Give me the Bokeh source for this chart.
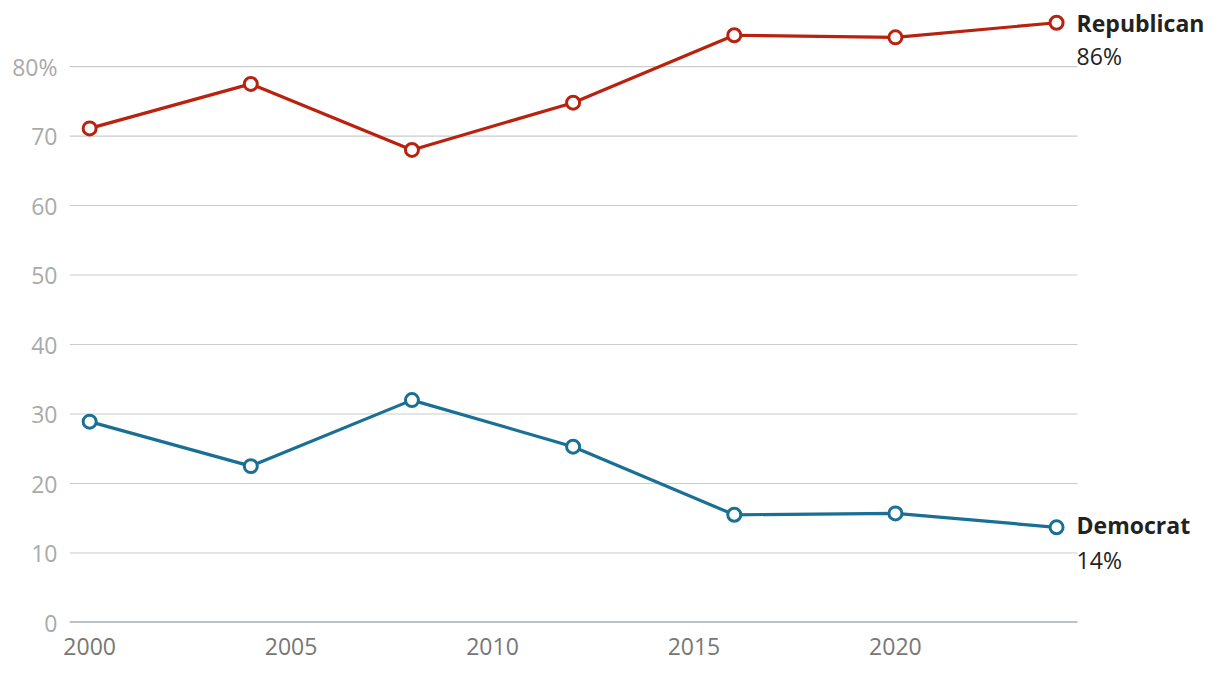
from bokeh.plotting import figure
from bokeh.models import Range1d, FixedTicker, CustomJSTickFormatter, ColumnDataSource
from bokeh.core.properties import value
from bokeh.embed import file_html
from bokeh.resources import INLINE

years = [2000, 2004, 2008, 2012, 2016, 2020, 2024]
republican = [71.1, 77.5, 68.0, 74.8, 84.5, 84.2, 86.3]
democrat = [28.9, 22.5, 32.0, 25.3, 15.5, 15.7, 13.7]
series_names = ["Republican", "Democrat"]
end_labels = ["86%", "14%"]
y_ticks = [0, 10, 20, 30, 40, 50, 60, 70, 80]
x_ticks = [2000, 2005, 2010, 2015, 2020]

RED = "#b8220f"
BLUE = "#1a6f94"
FONT = "Open Sans"
FS = "23px"

X_START = 1999.5
X_DATA_END = 2024.52
X_END = 2027.87

p = figure(width=1212, height=670, output_backend="svg", toolbar_location=None,
           x_range=Range1d(X_START, X_END), y_range=Range1d(0, 88.35),
           min_border_left=69, min_border_right=0, min_border_top=8, min_border_bottom=48)
p.outline_line_color = None
p.background_fill_color = "white"
p.border_fill_color = "white"

p.xgrid.grid_line_color = None
p.ygrid.grid_line_color = None

# horizontal gridlines limited to the data area
grid_y = [t for t in y_ticks if t != 0]
p.segment(x0=[X_START] * len(grid_y), y0=grid_y, x1=[X_DATA_END] * len(grid_y), y1=grid_y,
          line_color="#c9cdcd", line_width=1.2)
# zero baseline
p.segment(x0=[X_START], y0=[0], x1=[X_DATA_END], y1=[0], line_color="#7a8590", line_width=2)

p.yaxis.ticker = FixedTicker(ticks=y_ticks)
p.yaxis.formatter = CustomJSTickFormatter(code="return tick == 80 ? tick + '%' : String(tick);")
p.yaxis.axis_line_color = None
p.yaxis.major_tick_line_color = None
p.yaxis.minor_tick_line_color = None
p.yaxis.major_tick_out = 0
p.yaxis.major_tick_in = 0
p.yaxis.major_label_text_color = "#aaaaaa"
p.yaxis.major_label_text_font = FONT
p.yaxis.major_label_text_font_size = FS
p.yaxis.major_label_standoff = 12

p.xaxis.ticker = FixedTicker(ticks=x_ticks)
p.xaxis.axis_line_color = None
p.xaxis.major_tick_line_color = None
p.xaxis.minor_tick_line_color = None
p.xaxis.major_tick_out = 0
p.xaxis.major_tick_in = 0
p.xaxis.major_label_text_color = "#777777"
p.xaxis.major_label_text_font = FONT
p.xaxis.major_label_text_font_size = FS
p.xaxis.major_label_standoff = 15

for vals, color in [(republican, RED), (democrat, BLUE)]:
    src = ColumnDataSource(dict(x=years, y=vals))
    p.line("x", "y", source=src, line_color=color, line_width=3.2)
    p.scatter("x", "y", source=src, size=13, fill_color="white", line_color=color, line_width=3)

label_specs = [
    (series_names[0], end_labels[0], republican[-1], 0, 33),
    (series_names[1], end_labels[1], democrat[-1], -2, 33),
]
for name, pct, yv, off1, off2 in label_specs:
    p.text(x=[years[-1]], y=[yv], text=[name], x_offset=20, y_offset=off1,
           text_font=value(FONT), text_font_style="bold", text_font_size=FS,
           text_color="#222222", text_baseline="alphabetic", text_align="left")
    p.text(x=[years[-1]], y=[yv], text=[pct], x_offset=20, y_offset=off2,
           text_font=value(FONT), text_font_size=FS,
           text_color="#222222", text_baseline="alphabetic", text_align="left")

open("out.html", "w").write(file_html(p, INLINE))
